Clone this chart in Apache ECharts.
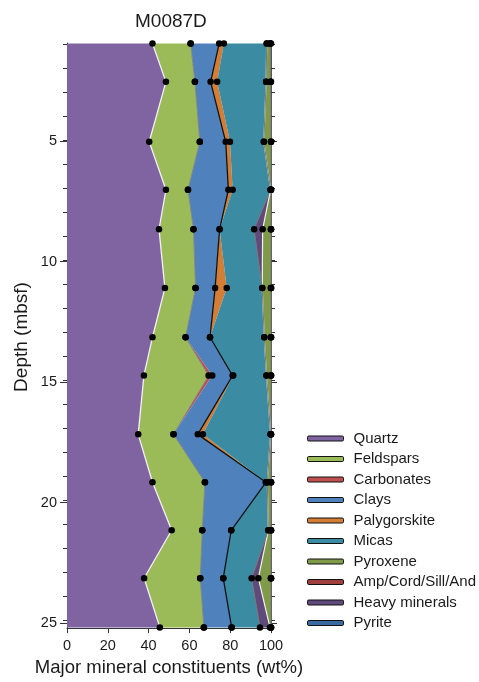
<!DOCTYPE html>
<html>
<head>
<meta charset="utf-8">
<script src="https://cdn.jsdelivr.net/npm/echarts@6/dist/echarts.min.js"></script>
<style>
  html, body { margin: 0; padding: 0; background: #fff; }
  #chart { width: 479px; height: 682px; }
</style>
</head>
<body>
<div id="chart"></div>
<script>
// Sample depths (mbsf) and mineral abundances (wt%) for core M0087D
const depth = [0.95, 2.55, 5.05, 7.05, 8.7, 11.15, 13.2, 14.8, 17.25, 19.25, 21.25, 23.25, 25.3];

const quartz        = [41.9, 48.5, 40.3, 48.5, 45.1, 48.0, 41.9, 37.7, 34.9, 41.9, 51.3, 37.8, 45.5];
const feldspars     = [18.7, 14.2, 24.8, 10.8, 16.9, 15.0, 16.2, 31.7, 17.3, 25.7, 15.0, 27.5, 21.6];
const carbonates    = [0, 0, 0, 0, 0, 0, 0, 1.8, 0, 0, 0, 0, 0];
const clays         = [14.0, 7.7, 12.7, 19.8, 12.8, 9.6, 12.0, 10.0, 11.9, 29.9, 14.2, 11.3, 13.6];
const palygorskite  = [2.3, 3.2, 2.1, 2.1, 0, 5.7, 0, 0.3, 2.5, 0, 0, 0, 0];
const micas         = [21.0, 24.0, 16.6, 18.6, 16.9, 17.4, 26.6, 16.3, 33.2, 0.7, 18.2, 13.9, 13.9];
const heavyMinerals = [0, 0, 0, 0, 4.2, 0, 0, 0, 0, 0, 0, 3.3, 4.9];
const pyroxene      = [1.7, 2.2, 3.5, 0.2, 4.1, 4.3, 3.3, 2.2, 0.2, 1.8, 1.3, 6.2, 0.5];
const ampCordSillAnd= [0, 0, 0, 0, 0, 0, 0, 0, 0, 0, 0, 0, 0];
const pyrite        = [0.4, 0.2, 0, 0, 0, 0, 0, 0, 0, 0, 0, 0, 0];

// Axis ticks
const xTicks = [0, 20, 40, 60, 80, 100];
const depthLabels = [5, 10, 15, 20, 25];
const depthMinorTicks = [1, 2, 3, 4, 5, 6, 7, 8, 9, 10, 11, 12, 13, 14, 15, 16, 17, 18, 19, 20, 21, 22, 23, 24, 25];
const legendOrder = ['Quartz', 'Feldspars', 'Carbonates', 'Clays', 'Palygorskite', 'Micas',
                     'Pyroxene', 'Amp/Cord/Sill/And', 'Heavy minerals', 'Pyrite'];

// Stacking order, left to right across the plot
const layers = [
  { name: 'Quartz',            values: quartz,         color: '#8064a2', edge: '#f2eef7', edgeWidth: 1.3 },
  { name: 'Feldspars',         values: feldspars,      color: '#9bbb59', edge: '#858585', edgeWidth: 1 },
  { name: 'Carbonates',        values: carbonates,     color: '#c0504d', edge: null },
  { name: 'Clays',             values: clays,          color: '#4f81bd', edge: '#111111', edgeWidth: 1.3 },
  { name: 'Palygorskite',      values: palygorskite,   color: '#d47d35', edge: null },
  { name: 'Micas',             values: micas,          color: '#3b8ca3', edge: '#777777', edgeWidth: 1 },
  { name: 'Heavy minerals',    values: heavyMinerals,  color: '#604a7b', edge: '#f0f0f0', edgeWidth: 1.2 },
  { name: 'Pyroxene',          values: pyroxene,       color: '#7f9a48', edge: '#777777', edgeWidth: 1 },
  { name: 'Amp/Cord/Sill/And', values: ampCordSillAnd, color: '#a0403d', edge: null },
  { name: 'Pyrite',            values: pyrite,         color: '#3b6aa0', edge: null }
];

// Cumulative boundaries for each layer
let running = depth.map(() => 0);
layers.forEach(l => {
  l.lo = running.slice();
  l.hi = running.map((v, i) => +(v + l.values[i]).toFixed(3));
  running = l.hi;
});

const yMin = 0.93, yMax = 25.33;
const font = 'Liberation Sans, Arial, sans-serif';
const ink = '#1a1a1a';

const series = [];

// Filled bands
layers.forEach(l => {
  series.push({
    type: 'custom',
    name: l.name,
    xAxisIndex: 0, yAxisIndex: 0,
    silent: true,
    z: 1,
    itemStyle: { color: l.color },
    data: [[l.hi[0], depth[0]]],
    renderItem: function (params, api) {
      const pts = [];
      for (let i = 0; i < depth.length; i++) pts.push(api.coord([l.hi[i], depth[i]]));
      for (let i = depth.length - 1; i >= 0; i--) pts.push(api.coord([l.lo[i], depth[i]]));
      return { type: 'polygon', shape: { points: pts }, style: { fill: l.color } };
    }
  });
});

// Band edges, drawn from the right-most layer back to the left
layers.slice().reverse().forEach(l => {
  if (!l.edge) return;
  series.push({
    type: 'line',
    name: l.name + ' edge',
    xAxisIndex: 0, yAxisIndex: 0,
    silent: true,
    z: 3,
    symbol: 'none',
    lineStyle: { color: l.edge, width: l.edgeWidth },
    data: l.hi.map((v, i) => [v, depth[i]])
  });
});

// Sample points at every boundary
const dots = [];
layers.forEach(l => l.hi.forEach((v, i) => dots.push([v, depth[i]])));
series.push({
  type: 'scatter',
  name: 'samples',
  xAxisIndex: 0, yAxisIndex: 0,
  silent: true,
  z: 5,
  symbol: 'circle',
  symbolSize: 6.5,
  itemStyle: { color: '#000', opacity: 1 },
  data: dots
});

const colorOf = {};
layers.forEach(l => colorOf[l.name] = l.color);

const gridBox = { left: 67, right: 208, top: 43, bottom: 51 };

const option = {
  animation: false,
  backgroundColor: '#fff',
  textStyle: { fontFamily: font, color: ink },
  title: {
    text: 'M0087D',
    left: 135, top: 12, padding: 0,
    textStyle: { fontFamily: font, fontSize: 19, fontWeight: 'normal', color: ink }
  },
  legend: {
    orient: 'vertical',
    left: 307, top: 431, padding: 0,
    itemWidth: 36, itemHeight: 5, itemGap: 5.5,
    icon: 'roundRect',
    itemStyle: { borderColor: '#111', borderWidth: 1 },
    textStyle: { fontFamily: font, fontSize: 15, lineHeight: 15, color: ink, padding: [0, 0, 0, 5] },
    selectedMode: false,
    data: legendOrder.map(n => ({ name: n, itemStyle: { color: colorOf[n] } }))
  },
  grid: [
    Object.assign({}, gridBox),
    Object.assign({}, gridBox)
  ],
  xAxis: [
    {
      type: 'value', gridIndex: 0, min: 0, max: 100, interval: 20, position: 'bottom',
      axisLine: { show: true, lineStyle: { color: '#333', width: 1 } },
      axisTick: { show: true, length: 5, customValues: xTicks, lineStyle: { color: '#333' } },
      axisLabel: { show: true, customValues: xTicks, margin: 10, fontSize: 14.5, color: ink, fontFamily: font },
      splitLine: { show: false },
      name: 'Major mineral constituents (wt%)',
      nameLocation: 'middle', nameGap: 29,
      nameTextStyle: { fontSize: 18.5, color: ink, fontFamily: font }
    },
    {
      type: 'value', gridIndex: 1, min: 0, max: 100, show: false
    }
  ],
  yAxis: [
    {
      type: 'value', gridIndex: 0, inverse: true, min: yMin, max: yMax, position: 'left',
      axisLine: { show: true, lineStyle: { color: '#333', width: 1 } },
      axisTick: { show: true, length: 4, customValues: depthMinorTicks, lineStyle: { color: '#333' } },
      axisLabel: { show: false },
      splitLine: { show: false }
    },
    {
      type: 'value', gridIndex: 0, inverse: true, min: yMin, max: yMax, position: 'right',
      axisLine: { show: true, lineStyle: { color: '#555', width: 1 } },
      axisTick: { show: true, length: 4, customValues: depthMinorTicks, lineStyle: { color: '#333' } },
      axisLabel: { show: false },
      splitLine: { show: false }
    },
    {
      type: 'value', gridIndex: 1, inverse: true, min: yMin, max: yMax, position: 'left',
      axisLine: { show: false },
      axisTick: { show: true, length: 7, customValues: depthLabels, lineStyle: { color: '#333' } },
      axisLabel: { show: true, customValues: depthLabels, margin: 10, fontSize: 14.5, color: ink, fontFamily: font },
      splitLine: { show: false },
      name: 'Depth (mbsf)', nameLocation: 'middle', nameGap: 36,
      nameTextStyle: { fontSize: 19, color: ink, fontFamily: font }
    },
    {
      type: 'value', gridIndex: 1, inverse: true, min: yMin, max: yMax, position: 'right',
      axisLine: { show: false },
      axisTick: { show: true, length: 6, customValues: depthLabels, lineStyle: { color: '#333' } },
      axisLabel: { show: false },
      splitLine: { show: false }
    }
  ],
  series: series
};

const chart = echarts.init(document.getElementById('chart'), null, { renderer: 'canvas' });
chart.setOption(option);
</script>
</body>
</html>
